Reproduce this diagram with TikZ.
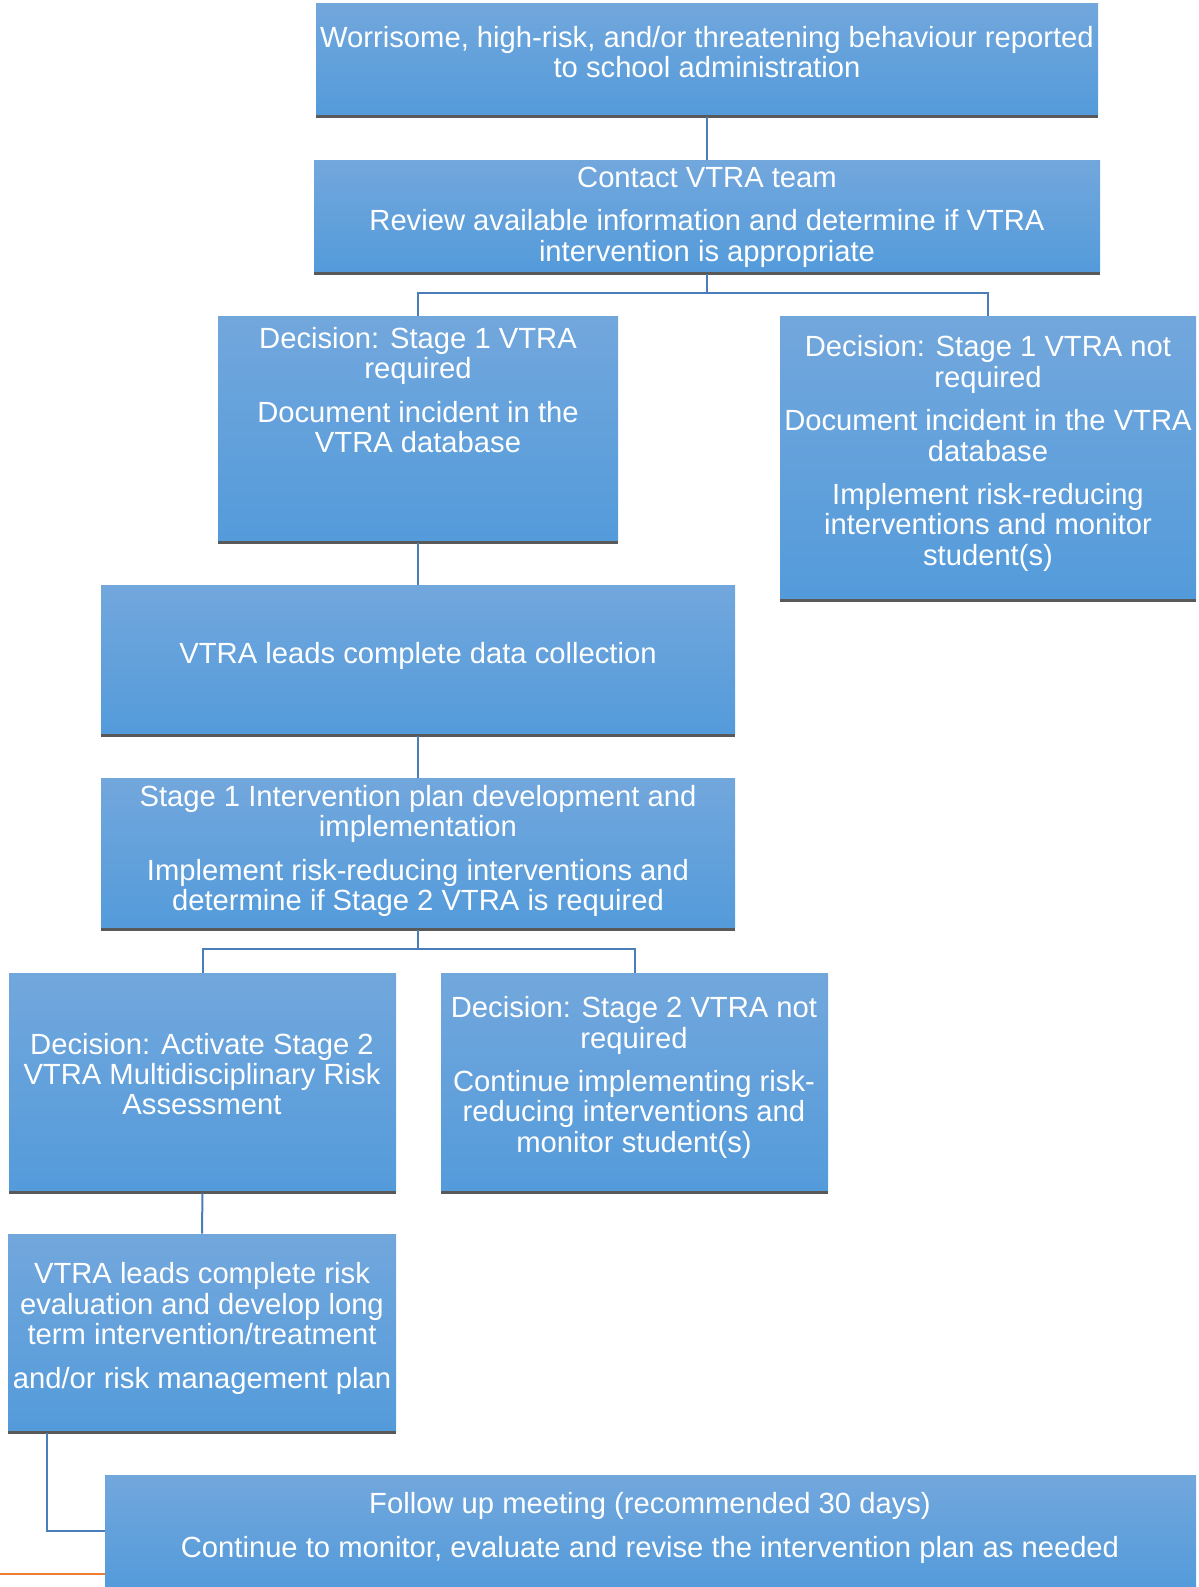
\documentclass[tikz,border=0pt]{standalone}
\usepackage{fontspec}
\setmainfont{Liberation Sans}
\usetikzlibrary{fit}
\definecolor{boxtop}{RGB}{114,167,220}
\definecolor{boxbot}{RGB}{84,155,219}
\definecolor{boxshade}{RGB}{89,89,89}
\definecolor{linkblue}{RGB}{74,126,187}
\definecolor{footrule}{RGB}{237,125,49}
\tikzset{every node/.style={font=\fontsize{14.6}{15.2}\selectfont},
  box/.style={rectangle, inner sep=0pt, top color=boxtop, bottom color=boxbot, draw=none},
  txt/.style={text=white, align=center, inner sep=0pt},
  link/.style={draw=linkblue, line width=1pt, shorten <=1.5pt}}
% name, left, top, right, bottom (in pixels)
\newcommand{\flowbox}[5]
{\fill[boxshade] (#2,#5) rectangle (#4,#5+3.5);
  \node[box, fit={(#2,#3) (#4,#5)}] (#1) {};}
\begin{document}
\begin{tikzpicture}[x=0.5pt,y=-0.5pt]
  \useasboundingbox (0,0) rectangle (1199,1587);
  \draw[footrule, line width=1pt] (0,1574) -- (105,1574);
  \flowbox{b1}{316}{3}{1098}{114}
  \flowbox{b2}{314}{160}{1100}{271}
  \flowbox{b3}{218}{316}{618}{540}
  \flowbox{b4}{780}{316}{1196}{598}
  \flowbox{b5}{101}{585}{735}{733}
  \flowbox{b6}{101}{778}{735}{927}
  \flowbox{b7}{9}{973}{396}{1190}
  \flowbox{b8}{441}{973}{828}{1190}
  \flowbox{b9}{8}{1234}{396}{1430}
  \flowbox{b10}{105}{1475}{1196}{1587}
  % texts
  \node[txt] (t1) at (707,52) {Worrisome, high-risk, and/or threatening behaviour reported\\to school administration};
  \node[txt] (t2) at (707,217) {Contact VTRA team\\[6.5pt]Review available information and determine if VTRA\\intervention is appropriate};
  \node[txt] (t3) at (418,390) {Decision: Stage 1 VTRA\\required\\[6.5pt]Document incident in the\\VTRA database};
  \node[txt] (t4) at (988,453.5) {Decision: Stage 1 VTRA not\\required\\[6.5pt]Document incident in the VTRA\\database\\[6.5pt]Implement risk-reducing\\interventions and monitor\\student(s)};
  \node[txt] (t5) at (418,656) {VTRA leads complete data collection};
  \node[txt] (t6) at (418,851) {Stage 1 Intervention plan development and\\implementation\\[6.5pt]Implement risk-reducing interventions and\\determine if Stage 2 VTRA is required};
  \node[txt] (t7) at (202,1074) {Decision: Activate Stage 2\\VTRA Multidisciplinary Risk\\Assessment};
  \node[txt] (t8) at (634,1077.5) {Decision: Stage 2 VTRA not\\required\\[6.5pt]Continue implementing risk-\\reducing interventions and\\monitor student(s)};
  \node[txt] (t9) at (202,1328.5) {VTRA leads complete risk\\evaluation and develop long\\term intervention/treatment\\[6.5pt]and/or risk management plan};
  \node[txt] (t10) at (650,1528) {Follow up meeting (recommended 30 days)\\[6.5pt]Continue to monitor, evaluate and revise the intervention plan as needed};
  % connectors
  \coordinate (j1) at (707,293);
  \coordinate (j2) at (418,949);
  \draw[link] (b1.south) -- (b2.north);
  \draw[link] (b2.south) -- (j1) -| (b3.north);
  \draw[link, shorten <=0pt] (j1) -| (b4.north);
  \draw[link] (b3.south) -- (b5.north);
  \draw[link] (b5.south) -- (b6.north);
  \draw[link] (b6.south) -- (j2) -| (b7.north);
  \draw[link, shorten <=0pt] (j2) -| (b8.north);
  \draw[link] (b7.south) -- (b9.north);
  \draw[link] ([xshift=19.5pt]b9.south west) |- (b10.west);
\end{tikzpicture}
\end{document}
